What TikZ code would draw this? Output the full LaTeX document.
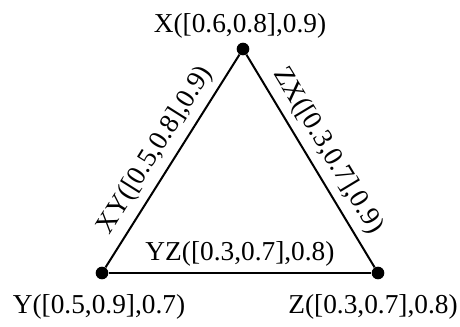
\documentclass[tikz,border=0pt]{standalone}
\usepackage{fontspec}
\setmainfont{Liberation Serif}
\begin{document}
\begin{tikzpicture}[x=0.75pt,y=-0.75pt,
  vertex/.style={circle,fill=black,inner sep=0pt,minimum size=9.5pt},
  edgeline/.style={line width=1.5pt},
  txt/.style={font=\fontsize{20.5}{24}\selectfont,inner sep=0pt}]
\useasboundingbox (0,0) rectangle (460,327);
% vertices
\node[vertex] (X) at (243,49) {};
\node[vertex] (Y) at (102,273) {};
\node[vertex] (Z) at (378,273) {};
% vertex labels
\node[txt,anchor=base] (Xl) at (240,33) {X([0.6,0.8],0.9)};
\node[txt,anchor=base] (Yl) at (99,314) {Y([0.5,0.9],0.7)};
\node[txt,anchor=base] (Zl) at (373,314) {Z([0.3,0.7],0.8)};
% edges
\draw[edgeline] (Y) -- node[txt,sloped,above=5pt] (XYl) {XY([0.5,0.8],0.9)} (X);
\draw[edgeline] (X) -- node[txt,sloped,above=5pt] (ZXl) {ZX([0.3,0.7],0.9)} (Z);
\draw[edgeline] (Y) -- node[txt,above=4pt] (YZl) {YZ([0.3,0.7],0.8)} (Z);
\end{tikzpicture}
\end{document}
